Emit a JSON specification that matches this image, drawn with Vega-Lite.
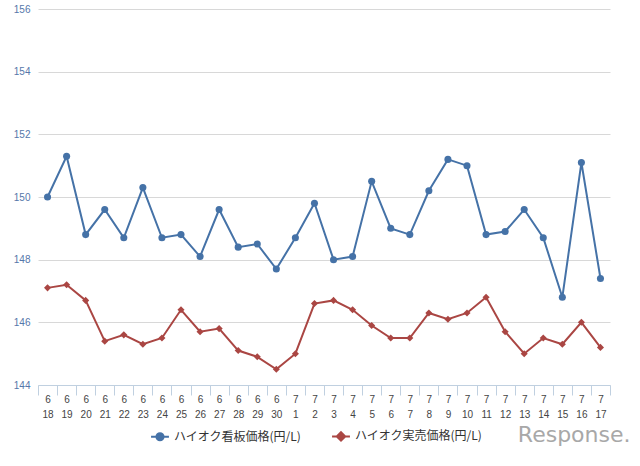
{
  "$schema": "https://vega.github.io/schema/vega-lite/v6.json",
  "width": 572,
  "height": 376,
  "autosize": "none",
  "padding": {"left": 38, "top": 9, "right": 30, "bottom": 81},
  "background": "#ffffff",
  "config": {"view": {"stroke": null}, "font": "Noto Sans CJK JP"},
  "title": {"text": "Response.", "orient": "bottom", "anchor": "end", "color": "#a8a8a8", "fontSize": 22, "font": "DejaVu Sans", "fontWeight": "normal", "offset": -20, "dx": 20},
  "data": {"values": [
    {"d":"6/18","s":"ハイオク看板価格(円/L)","v":150.0},
    {"d":"6/19","s":"ハイオク看板価格(円/L)","v":151.3},
    {"d":"6/20","s":"ハイオク看板価格(円/L)","v":148.8},
    {"d":"6/21","s":"ハイオク看板価格(円/L)","v":149.6},
    {"d":"6/22","s":"ハイオク看板価格(円/L)","v":148.7},
    {"d":"6/23","s":"ハイオク看板価格(円/L)","v":150.3},
    {"d":"6/24","s":"ハイオク看板価格(円/L)","v":148.7},
    {"d":"6/25","s":"ハイオク看板価格(円/L)","v":148.8},
    {"d":"6/26","s":"ハイオク看板価格(円/L)","v":148.1},
    {"d":"6/27","s":"ハイオク看板価格(円/L)","v":149.6},
    {"d":"6/28","s":"ハイオク看板価格(円/L)","v":148.4},
    {"d":"6/29","s":"ハイオク看板価格(円/L)","v":148.5},
    {"d":"6/30","s":"ハイオク看板価格(円/L)","v":147.7},
    {"d":"7/1","s":"ハイオク看板価格(円/L)","v":148.7},
    {"d":"7/2","s":"ハイオク看板価格(円/L)","v":149.8},
    {"d":"7/3","s":"ハイオク看板価格(円/L)","v":148.0},
    {"d":"7/4","s":"ハイオク看板価格(円/L)","v":148.1},
    {"d":"7/5","s":"ハイオク看板価格(円/L)","v":150.5},
    {"d":"7/6","s":"ハイオク看板価格(円/L)","v":149.0},
    {"d":"7/7","s":"ハイオク看板価格(円/L)","v":148.8},
    {"d":"7/8","s":"ハイオク看板価格(円/L)","v":150.2},
    {"d":"7/9","s":"ハイオク看板価格(円/L)","v":151.2},
    {"d":"7/10","s":"ハイオク看板価格(円/L)","v":151.0},
    {"d":"7/11","s":"ハイオク看板価格(円/L)","v":148.8},
    {"d":"7/12","s":"ハイオク看板価格(円/L)","v":148.9},
    {"d":"7/13","s":"ハイオク看板価格(円/L)","v":149.6},
    {"d":"7/14","s":"ハイオク看板価格(円/L)","v":148.7},
    {"d":"7/15","s":"ハイオク看板価格(円/L)","v":146.8},
    {"d":"7/16","s":"ハイオク看板価格(円/L)","v":151.1},
    {"d":"7/17","s":"ハイオク看板価格(円/L)","v":147.4},
    {"d":"6/18","s":"ハイオク実売価格(円/L)","v":147.1},
    {"d":"6/19","s":"ハイオク実売価格(円/L)","v":147.2},
    {"d":"6/20","s":"ハイオク実売価格(円/L)","v":146.7},
    {"d":"6/21","s":"ハイオク実売価格(円/L)","v":145.4},
    {"d":"6/22","s":"ハイオク実売価格(円/L)","v":145.6},
    {"d":"6/23","s":"ハイオク実売価格(円/L)","v":145.3},
    {"d":"6/24","s":"ハイオク実売価格(円/L)","v":145.5},
    {"d":"6/25","s":"ハイオク実売価格(円/L)","v":146.4},
    {"d":"6/26","s":"ハイオク実売価格(円/L)","v":145.7},
    {"d":"6/27","s":"ハイオク実売価格(円/L)","v":145.8},
    {"d":"6/28","s":"ハイオク実売価格(円/L)","v":145.1},
    {"d":"6/29","s":"ハイオク実売価格(円/L)","v":144.9},
    {"d":"6/30","s":"ハイオク実売価格(円/L)","v":144.5},
    {"d":"7/1","s":"ハイオク実売価格(円/L)","v":145.0},
    {"d":"7/2","s":"ハイオク実売価格(円/L)","v":146.6},
    {"d":"7/3","s":"ハイオク実売価格(円/L)","v":146.7},
    {"d":"7/4","s":"ハイオク実売価格(円/L)","v":146.4},
    {"d":"7/5","s":"ハイオク実売価格(円/L)","v":145.9},
    {"d":"7/6","s":"ハイオク実売価格(円/L)","v":145.5},
    {"d":"7/7","s":"ハイオク実売価格(円/L)","v":145.5},
    {"d":"7/8","s":"ハイオク実売価格(円/L)","v":146.3},
    {"d":"7/9","s":"ハイオク実売価格(円/L)","v":146.1},
    {"d":"7/10","s":"ハイオク実売価格(円/L)","v":146.3},
    {"d":"7/11","s":"ハイオク実売価格(円/L)","v":146.8},
    {"d":"7/12","s":"ハイオク実売価格(円/L)","v":145.7},
    {"d":"7/13","s":"ハイオク実売価格(円/L)","v":145.0},
    {"d":"7/14","s":"ハイオク実売価格(円/L)","v":145.5},
    {"d":"7/15","s":"ハイオク実売価格(円/L)","v":145.3},
    {"d":"7/16","s":"ハイオク実売価格(円/L)","v":146.0},
    {"d":"7/17","s":"ハイオク実売価格(円/L)","v":145.2}
  ]},
  "encoding": {
    "x": {"field": "d", "type": "ordinal", "sort": null, "title": null,
      "scale": {"paddingInner": 0, "paddingOuter": 0},
      "axis": {"labelAngle": 0, "labelExpr": "split(datum.label, '/')", "labelFontSize": 10, "labelColor": "#444444", "labelFont": "Liberation Sans", "labelLineHeight": 15, "labelPadding": -1, "domainColor": "#C0D0E0", "tickColor": "#C0D0E0", "tickSize": 10, "tickBand": "extent", "grid": false}},
    "y": {"field": "v", "type": "quantitative", "title": null,
      "scale": {"domain": [144, 156], "nice": false, "zero": false},
      "axis": {"values": [144, 146, 148, 150, 152, 154, 156], "domain": false, "ticks": false, "labelFontSize": 10, "labelColor": "#5577aa", "labelFont": "Liberation Sans", "labelPadding": 8, "gridColor": "#d8d8d8", "gridWidth": 1}},
    "color": {"field": "s", "type": "nominal", "sort": null, "title": null,
      "scale": {"range": ["#4572A7", "#AA4643"]},
      "legend": {"orient": "none", "direction": "horizontal", "legendX": 116, "legendY": 421, "labelFontSize": 12, "labelColor": "#333333", "labelFont": "Noto Sans CJK JP", "symbolSize": 80, "symbolStrokeWidth": 2, "columnPadding": 26, "labelLimit": 300, "labelOffset": 8,
        "encode": {"symbols": {"update": {
          "shape": {"signal": "datum.value === 'ハイオク看板価格(円/L)' ? 'M-2,0H2M-0.8,0A0.8,0.8 0 1,1 0.8,0A0.8,0.8 0 1,1 -0.8,0Z' : 'M-2,0H2M0,-0.95L0.95,0L0,0.95L-0.95,0Z'"},
          "fill": {"signal": "datum.value === 'ハイオク看板価格(円/L)' ? '#4572A7' : '#AA4643'"},
          "stroke": {"signal": "datum.value === 'ハイオク看板価格(円/L)' ? '#4572A7' : '#AA4643'"},
          "opacity": {"value": 1}
        }}}}}
  },
  "layer": [
    {"mark": {"type": "line", "strokeWidth": 2}},
    {"mark": {"type": "point", "filled": true, "opacity": 1, "size": 50},
     "encoding": {"shape": {"field": "s", "type": "nominal", "sort": null, "scale": {"range": ["circle", "diamond"]}, "legend": null}}}
  ]
}
